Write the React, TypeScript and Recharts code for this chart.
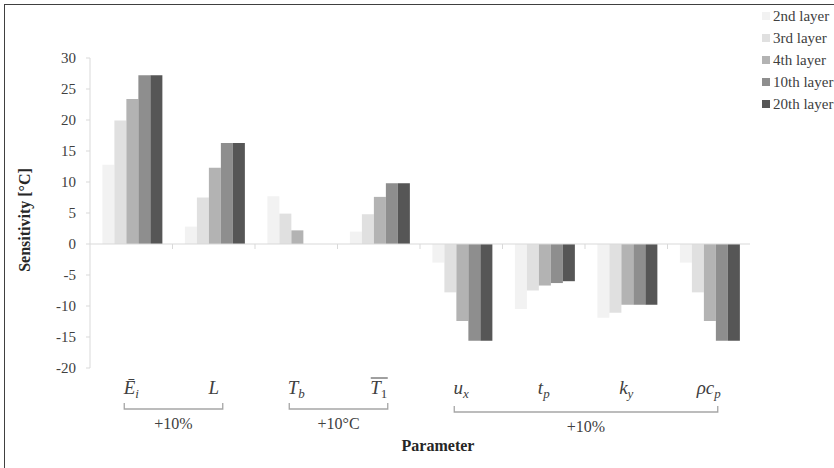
import { BarChart, Bar, XAxis, YAxis, ReferenceLine, Legend } from 'recharts'

// parameter order on the x axis
const CATEGORIES = ['Ei', 'L', 'Tb', 'T1', 'ux', 'tp', 'ky', 'rcp']

// sensitivity [°C] per layer
const LAYER_2 = [12.8, 2.8, 7.7, 2.0, -3.0, -10.5, -11.9, -3.0]
const LAYER_3 = [19.9, 7.5, 4.9, 4.8, -7.8, -7.5, -11.1, -7.8]
const LAYER_4 = [23.4, 12.3, 2.2, 7.6, -12.4, -6.7, -9.8, -12.4]
const LAYER_10 = [27.2, 16.3, 0, 9.8, -15.6, -6.3, -9.8, -15.6]
const LAYER_20 = [27.2, 16.3, 0, 9.8, -15.6, -6.0, -9.8, -15.6]

const Y_TICKS = [-20, -15, -10, -5, 0, 5, 10, 15, 20, 25, 30]

// math labels: base text, subscript, overline
const PARAM_LABELS = [
  { base: 'Ē', sub: 'i', over: false },
  { base: 'L', sub: '', over: false },
  { base: 'T', sub: 'b', over: false },
  { base: 'T', sub: '1', over: true },
  { base: 'u', sub: 'x', over: false },
  { base: 't', sub: 'p', over: false },
  { base: 'k', sub: 'y', over: false },
  { base: 'ρc', sub: 'p', over: false },
]

const GROUPS = [
  { from: 0, to: 1, label: '+10%', drop: 0 },
  { from: 2, to: 3, label: '+10°C', drop: 0 },
  { from: 4, to: 7, label: '+10%', drop: 3 },
]

const SERIES = [
  { key: 'l2', name: '2nd layer', color: '#f2f2f2', values: LAYER_2 },
  { key: 'l3', name: '3rd layer', color: '#e0e0e0', values: LAYER_3 },
  { key: 'l4', name: '4th layer', color: '#b3b3b3', values: LAYER_4 },
  { key: 'l10', name: '10th layer', color: '#8e8e8e', values: LAYER_10 },
  { key: 'l20', name: '20th layer', color: '#565656', values: LAYER_20 },
]

const W = 834
const H = 468
const TOP = 58
const LEFT = 90
const RIGHT = 84
const X_AXIS_H = 100
const PLOT_BOTTOM = H - X_AXIS_H
const BAND = (W - LEFT - RIGHT) / CATEGORIES.length
const ZERO_Y = TOP + ((PLOT_BOTTOM - TOP) * 30) / 50
const SERIF = '"Liberation Serif", "Times New Roman", serif'
const TEXT = '#404040'
const AXIS = '#d9d9d9'

const data = CATEGORIES.map((c, i) => {
  const row: Record<string, string | number> = { param: c }
  SERIES.forEach((s) => {
    row[s.key] = s.values[i]
  })
  return row
})

const ParamTick = (props: any) => {
  const { x, payload } = props
  const i = CATEGORIES.indexOf(payload.value)
  const lab = PARAM_LABELS[i]
  const grp = GROUPS.find((g) => g.from === i)
  const labelY = PLOT_BOTTOM + 26
  return (
    <g>
      {i < CATEGORIES.length - 1 && (
        <line x1={x + BAND / 2} x2={x + BAND / 2} y1={ZERO_Y} y2={ZERO_Y + 5} stroke={AXIS} />
      )}
      <text
        x={x}
        y={labelY}
        textAnchor="middle"
        fill={TEXT}
        fontFamily={SERIF}
        fontStyle="italic"
        fontSize={19}
      >
        <tspan>{lab.base}</tspan>
        {lab.sub && (
          <tspan fontSize={13} dy={4} fontStyle={lab.sub === '1' ? 'normal' : 'italic'}>
            {lab.sub}
          </tspan>
        )}
      </text>
      {lab.over && <line x1={x - 8} x2={x + 9} y1={labelY - 16} y2={labelY - 16} stroke={TEXT} strokeWidth={1} />}
      {grp && (
        <g>
          <path
            d={`M${x - 7},${PLOT_BOTTOM + 35 + grp.drop} V${PLOT_BOTTOM + 41 + grp.drop} H${
              x + (grp.to - grp.from) * BAND + 9
            } V${PLOT_BOTTOM + 35 + grp.drop}`}
            fill="none"
            stroke="#a6a6a6"
            strokeWidth={1.3}
          />
          <text
            x={x + ((grp.to - grp.from) * BAND + 2) / 2}
            y={PLOT_BOTTOM + 61 + grp.drop}
            textAnchor="middle"
            fill={TEXT}
            fontFamily={SERIF}
            fontSize={16}
          >
            {grp.label}
          </text>
        </g>
      )}
    </g>
  )
}

const YTitle = () => (
  <text
    x={30}
    y={220}
    transform="rotate(-90, 30, 220)"
    textAnchor="middle"
    fill="#262626"
    fontFamily={SERIF}
    fontWeight="bold"
    fontSize={16}
  >
    Sensitivity [°C]
  </text>
)

const XTitle = () => (
  <text x={438} y={451} textAnchor="middle" fill="#262626" fontFamily={SERIF} fontWeight="bold" fontSize={16}>
    Parameter
  </text>
)

// legend drawn from SERIES so the order stays as in the figure
const LegendBox = () => (
  <div style={{ fontFamily: SERIF, fontSize: 15, color: TEXT, whiteSpace: 'nowrap' }}>
    {SERIES.map((s) => (
      <div key={s.key} style={{ display: 'flex', alignItems: 'center', height: 22 }}>
        <span style={{ width: 8, height: 8, background: s.color, marginRight: 3, display: 'inline-block' }} />
        <span>{s.name}</span>
      </div>
    ))}
  </div>
)

const App = () => {
  return (
    <div style={{ position: 'absolute', left: 0, top: 0, width: W, height: H, background: '#fff' }}>
      <div
        style={{
          position: 'absolute',
          left: 4,
          top: 4,
          right: 0,
          bottom: 0,
          borderTop: '1.5px solid #404040',
          borderLeft: '1.5px solid #404040',
        }}
      />
      <BarChart
        width={W}
        height={H}
        data={data}
        margin={{ top: TOP, right: RIGHT, bottom: 0, left: 0 }}
        barCategoryGap="15%"
        barGap={0}
      >
        <XAxis
          dataKey="param"
          height={X_AXIS_H}
          axisLine={false}
          tickLine={false}
          interval={0}
          tick={<ParamTick />}
          label={<XTitle />}
        />
        <YAxis
          width={LEFT}
          domain={[-20, 30]}
          ticks={Y_TICKS}
          interval={0}
          axisLine={{ stroke: AXIS }}
          tickLine={{ stroke: AXIS }}
          tickSize={4}
          tickMargin={10}
          tick={{ fill: TEXT, fontSize: 15, fontFamily: SERIF }}
          label={<YTitle />}
        />
        <ReferenceLine y={0} stroke={AXIS} />
        <Legend
          layout="horizontal"
          verticalAlign="middle"
          align="center"
          content={<LegendBox />}
          wrapperStyle={{ position: 'absolute', top: 5, left: 762, width: 72 }}
        />
        {SERIES.map((s) => (
          <Bar key={s.key} dataKey={s.key} name={s.name} fill={s.color} isAnimationActive={false} />
        ))}
      </BarChart>
    </div>
  )
}

export default App
